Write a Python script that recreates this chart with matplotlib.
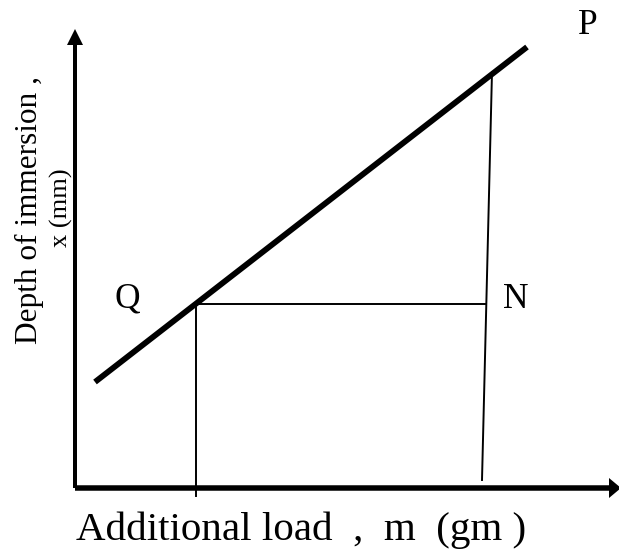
import matplotlib
matplotlib.use("Agg")
import matplotlib.pyplot as plt

# Schematic data (arbitrary units, origin at axes corner)
line_load = [20, 452]          # thick line PQ end points (load)
line_depth = [106, 441]        # thick line PQ end points (depth)
q_point = (121, 184)           # point Q on the line
n_top = (417, 416)             # top of vertical through N (on the line)
n_bottom = (407, 8)            # bottom of vertical through N
n_point = (410, 184)           # point N
q_drop = -8                    # Q vertical goes slightly below the axis
x_axis_len = 544
y_axis_len = 459

labels = {"P": (513, 463), "Q": (52, 189), "N": (441, 189)}

fig = plt.figure(figsize=(6.19, 5.57), dpi=100)
ax = fig.add_axes([0, 0, 1, 1])
ax.set_xlim(-75, 544)
ax.set_ylim(-69, 488)
ax.axis("off")

serif = ["Liberation Serif", "DejaVu Serif"]

# axes with arrows
ax.arrow(0, 0, 0, y_axis_len, width=4, head_width=16, head_length=16,
         length_includes_head=True, color="black", lw=0)
ax.arrow(0, 0, x_axis_len + 2, 0, width=5.5, head_width=20, head_length=12,
         length_includes_head=True, color="black", lw=0)

# thick line
ax.plot(line_load, line_depth, color="black", lw=4.2, solid_capstyle="butt")

# construction lines
ax.plot([q_point[0], q_point[0]], [q_point[1], q_drop], color="black", lw=1.4)
ax.plot([q_point[0], n_point[0]], [q_point[1], n_point[1]], color="black", lw=1.4)
ax.plot([n_top[0], n_bottom[0]], [n_top[1], n_bottom[1]], color="black", lw=1.4)

for k, (x, y) in labels.items():
    ax.text(x, y, k, fontsize=25.5, family=serif, ha="center", va="center")

ax.text(1, -42, "Additional load  ,  m  (gm )", fontsize=29.5, family=serif,
        ha="left", va="center")
ax.text(-46, 278, "Depth of immersion ,", fontsize=22.5, family=serif,
        rotation=90, ha="center", va="center")
ax.text(-14, 280, "x (mm)", fontsize=19, family=serif,
        rotation=90, ha="center", va="center")

fig.savefig("out.png", dpi=100)
